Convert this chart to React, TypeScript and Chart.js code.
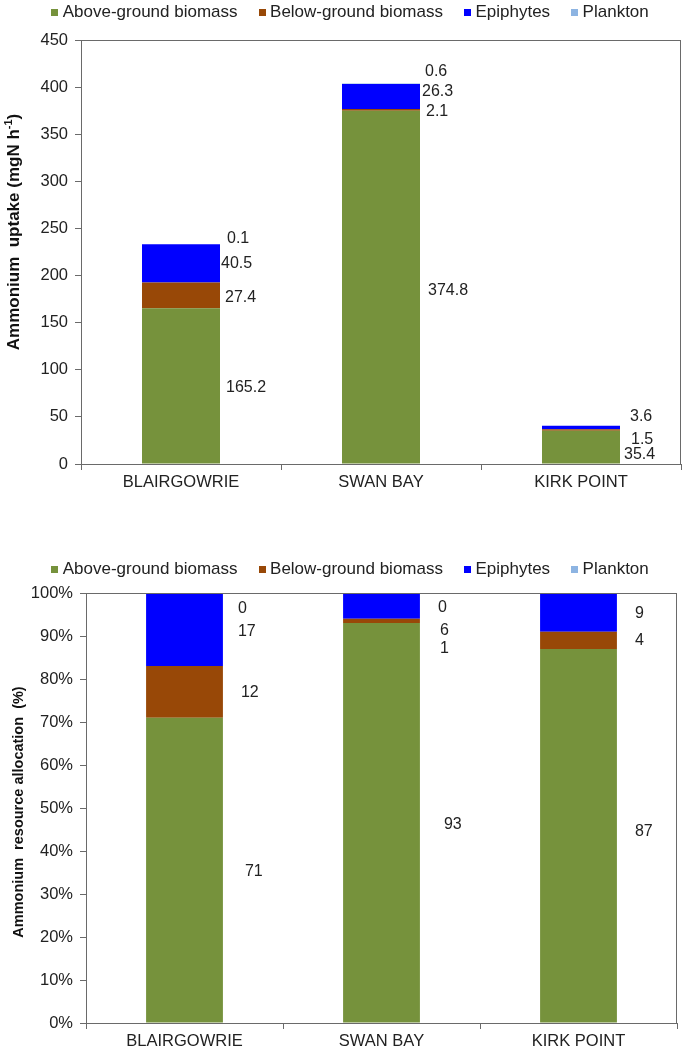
import React, { useEffect, useRef } from 'react';
import { Chart, registerables } from 'chart.js';
Chart.register(...registerables);

const FONT = '"Liberation Sans", Arial, sans-serif';

// ---------- data ----------
const categories = ['BLAIRGOWRIE', 'SWAN BAY', 'KIRK POINT'];
const seriesNames = ['Above-ground biomass', 'Below-ground biomass', 'Epiphytes', 'Plankton'];
const seriesColors = ['#76923C', '#984807', '#0000FF', '#8DB4E2'];

// Ammonium uptake (mgN h-1)
const uptakeAbove = [165.2, 374.8, 35.4];
const uptakeBelow = [27.4, 2.1, 1.5];
const uptakeEpiphytes = [40.5, 26.3, 3.6];
const uptakePlankton = [0.1, 0.6, null];
const uptakeMax = 450;
const uptakeStep = 50;

// Ammonium resource allocation (%)
const allocAbove = [71, 93, 87];
const allocBelow = [12, 1, 4];
const allocEpiphytes = [17, 6, 9];
const allocPlankton = [0, 0, null];
const allocMax = 100;
const allocStep = 10;

// ---------- label nudges (px) : [dx from bar right edge, dy from segment middle] ----------
const topLabelNudge = [
  [[6, 2], [8, 3.5], [4, 8]],
  [[5, 2.5], [6, 2], [11, 10]],
  [[1, 0.5], [2, -5], [10, -11]],
  [[7, -6], [5, -12], [0, 0]],
];
const bottomLabelNudge = [
  [[22, 1.5], [24, 2], [18, -4]],
  [[18, 1], [20, 28], [18, 0]],
  [[15, 2], [20, 25], [18, 1]],
  [[15, 16], [18, 15], [0, 0]],
];

type TitlePiece = { t: string; size: number; rise?: number };

interface Spec {
  series: (number | null)[][];
  fmt: (v: number) => string;
  yMax: number;
  yStep: number;
  yTick: (v: number) => string;
  yWidth: number;
  rightPad: number;
  topPad: number;
  xHeight: number;
  nudge: number[][][];
  legendY: number;
  legendCX: number;
  title: TitlePiece[];
  titleX: number;
  titleCY: number;
}

function buildConfig(spec: Spec): any {
  const framePlugin = {
    id: 'frame',
    afterDatasetsDraw(chart: any) {
      const { ctx, chartArea } = chart;
      const l = Math.round(chartArea.left) + 0.5;
      const t = Math.round(chartArea.top) + 0.5;
      const r = Math.round(chartArea.right) - 0.5;
      const b = Math.round(chartArea.bottom) + 0.5;
      ctx.save();
      ctx.strokeStyle = '#6a6a6a';
      ctx.lineWidth = 1;
      ctx.strokeRect(l, t, r - l, b - t);
      ctx.restore();
    },
  };
  const labelPlugin = {
    id: 'segLabels',
    afterDatasetsDraw(chart: any) {
      const { ctx } = chart;
      ctx.save();
      ctx.font = `16px ${FONT}`;
      ctx.fillStyle = '#222';
      ctx.textAlign = 'left';
      ctx.textBaseline = 'middle';
      chart.data.datasets.forEach((ds: any, di: number) => {
        const meta = chart.getDatasetMeta(di);
        meta.data.forEach((el: any, i: number) => {
          const v = ds.data[i];
          if (v === null || v === undefined) return;
          const p = el.getProps(['x', 'y', 'base', 'width'], true);
          const [dx, dy] = spec.nudge[di][i];
          const x = p.x + p.width / 2 + dx;
          const y = (p.y + p.base) / 2 + dy;
          ctx.fillText(spec.fmt(v), x, y);
        });
      });
      ctx.restore();
    },
  };
  const legendPlugin = {
    id: 'customLegend',
    afterDraw(chart: any) {
      const { ctx } = chart;
      ctx.save();
      ctx.font = `17px ${FONT}`;
      ctx.textBaseline = 'middle';
      const box = 7, gapBox = 4.5, gapItem = 21;
      const widths = seriesNames.map((n) => box + gapBox + ctx.measureText(n).width);
      const total = widths.reduce((a, b) => a + b, 0) + gapItem * (widths.length - 1);
      let x = spec.legendCX - total / 2;
      seriesNames.forEach((n, i) => {
        ctx.fillStyle = seriesColors[i];
        ctx.fillRect(Math.round(x), Math.round(spec.legendY - box / 2), box, box);
        ctx.fillStyle = '#222';
        ctx.fillText(n, x + box + gapBox, spec.legendY);
        x += widths[i] + gapItem;
      });
      ctx.restore();
    },
  };
  const titlePlugin = {
    id: 'yTitle',
    afterDraw(chart: any) {
      const { ctx } = chart;
      ctx.save();
      ctx.translate(spec.titleX, spec.titleCY);
      ctx.rotate(-Math.PI / 2);
      ctx.fillStyle = '#111';
      ctx.textBaseline = 'middle';
      ctx.textAlign = 'left';
      let total = 0;
      const ws = spec.title.map((p) => {
        ctx.font = `bold ${p.size}px ${FONT}`;
        const w = ctx.measureText(p.t).width;
        total += w;
        return w;
      });
      let x = -total / 2;
      spec.title.forEach((p, i) => {
        ctx.font = `bold ${p.size}px ${FONT}`;
        ctx.fillText(p.t, x, -(p.rise || 0));
        x += ws[i];
      });
      ctx.restore();
    },
  };

  return {
    type: 'bar',
    data: {
      labels: categories,
      datasets: spec.series.map((d, i) => ({
        label: seriesNames[i],
        data: d,
        backgroundColor: seriesColors[i],
        borderWidth: 0,
        barPercentage: 0.39,
        categoryPercentage: 1,
        stack: 's',
      })),
    },
    options: {
      responsive: false,
      animation: false,
      events: [],
      layout: { padding: { left: 0, right: spec.rightPad, top: spec.topPad, bottom: 0 } },
      plugins: {
        legend: { display: false },
        tooltip: { enabled: false },
        title: { display: false },
      },
      scales: {
        x: {
          stacked: true,
          grid: { offset: true, drawOnChartArea: false, drawTicks: true, tickLength: 6, color: '#6a6a6a' },
          border: { display: false },
          ticks: { color: '#222', font: { family: FONT, size: 16.5 }, padding: 3, maxRotation: 0 },
          afterFit: (s: any) => { s.height = spec.xHeight; },
        },
        y: {
          stacked: true,
          min: 0,
          max: spec.yMax,
          grid: { drawOnChartArea: false, drawTicks: true, tickLength: 6, color: '#6a6a6a' },
          border: { display: false },
          ticks: {
            stepSize: spec.yStep,
            color: '#222',
            font: { family: FONT, size: 16.5 },
            padding: 7,
            callback: (v: any) => spec.yTick(Number(v)),
          },
          afterFit: (s: any) => { s.width = spec.yWidth; },
        },
      },
    },
    plugins: [framePlugin, labelPlugin, legendPlugin, titlePlugin],
  };
}

function ChartCanvas({ spec, width, height, top }: { spec: Spec; width: number; height: number; top: number }) {
  const ref = useRef<HTMLCanvasElement | null>(null);
  useEffect(() => {
    if (!ref.current) return;
    const chart = new Chart(ref.current, buildConfig(spec));
    return () => chart.destroy();
  }, []);
  return (
    <canvas
      ref={ref}
      width={width}
      height={height}
      style={{ position: 'absolute', left: 0, top, width, height, display: 'block' }}
    />
  );
}

const topSpec: Spec = {
  series: [uptakeAbove, uptakeBelow, uptakeEpiphytes, uptakePlankton],
  fmt: (v) => v.toFixed(1),
  yMax: uptakeMax,
  yStep: uptakeStep,
  yTick: (v) => String(v),
  yWidth: 81,
  rightPad: 4,
  topPad: 40,
  xHeight: 36,
  nudge: topLabelNudge,
  legendY: 12,
  legendCX: 350,
  title: [
    { t: 'Ammonium  uptake (mgN h', size: 17 },
    { t: '-1', size: 11, rise: 5 },
    { t: ')', size: 17 },
  ],
  titleX: 14,
  titleCY: 232,
};

const bottomSpec: Spec = {
  series: [allocAbove, allocBelow, allocEpiphytes, allocPlankton],
  fmt: (v) => String(Math.round(v)),
  yMax: allocMax,
  yStep: allocStep,
  yTick: (v) => `${v}%`,
  yWidth: 86,
  rightPad: 8,
  topPad: 53,
  xHeight: 28,
  nudge: bottomLabelNudge,
  legendY: 29,
  legendCX: 350,
  title: [{ t: 'Ammonium  resource allocation  (%)', size: 14.5 }],
  titleX: 19,
  titleCY: 272,
};

export default function App() {
  return (
    <div style={{ position: 'absolute', left: 0, top: 0, width: 685, height: 1051, background: '#fff' }}>
      <ChartCanvas spec={topSpec} width={685} height={500} top={0} />
      <ChartCanvas spec={bottomSpec} width={685} height={511} top={540} />
    </div>
  );
}
